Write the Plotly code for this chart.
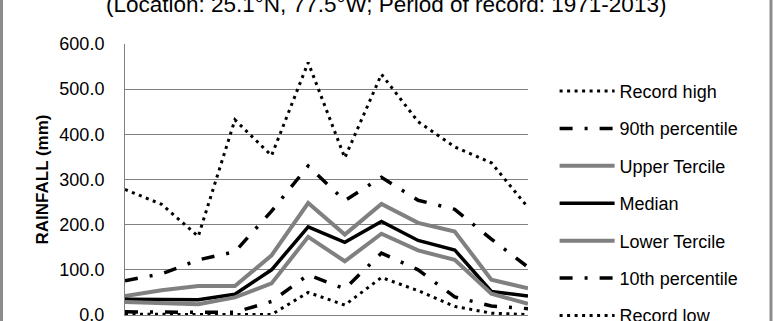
import plotly.graph_objects as go

months = ["Jan", "Feb", "Mar", "Apr", "May", "Jun", "Jul", "Aug", "Sep", "Oct", "Nov", "Dec"]
record_high = [278, 245, 174, 432, 353, 559, 348, 533, 428, 372, 337, 238]
p90 = [76, 91, 122, 140, 230, 330, 253, 305, 254, 234, 168, 106]
upper_tercile = [42, 55, 64, 64, 132, 248, 178, 246, 204, 185, 78, 59]
median = [35, 35, 34, 46, 100, 195, 161, 207, 165, 144, 52, 42]
lower_tercile = [29, 26, 24, 39, 70, 173, 119, 180, 143, 122, 47, 25]
p10 = [7, 6, 6, 6, 30, 89, 58, 137, 100, 40, 20, 14]
record_low = [2, 1, 1, 1, 1, 50, 22, 83, 54, 19, 4, 1]

title_text = "(Location: 25.1°N, 77.5°W; Period of record: 1971-2013)"
y_title = "RAINFALL (mm)"
yticks = [0, 100, 200, 300, 400, 500, 600]

FONT = "Liberation Sans"
GRAY = "#808080"
DOT = "3px,4.5px"
DASHDOT = "13px,12px,3px,12px"

series = [
    ("Record high", record_high, "black", 3, DOT),
    ("90th percentile", p90, "black", 3.5, DASHDOT),
    ("Upper Tercile", upper_tercile, GRAY, 4, "solid"),
    ("Median", median, "black", 3.5, "solid"),
    ("Lower Tercile", lower_tercile, GRAY, 4, "solid"),
    ("10th percentile", p10, "black", 3.5, DASHDOT),
    ("Record low", record_low, "black", 3, DOT),
]

fig = go.Figure()
for i, (name, vals, color, width, dash) in enumerate(series):
    fig.add_trace(go.Scatter(
        x=months, y=vals, name=name, mode="lines",
        line=dict(color=color, width=width, dash=dash),
        legendgroup=f"g{i}", cliponaxis=False, hoverinfo="skip",
    ))

fig.update_layout(
    width=773, height=321,
    margin=dict(l=125, r=245, t=44, b=6, autoexpand=False),
    paper_bgcolor="white", plot_bgcolor="white",
    font=dict(family=FONT, size=18, color="black"),
    showlegend=True,
    legend=dict(
        x=1.066, xanchor="left", y=0.8935, yanchor="top",
        font=dict(family=FONT, size=18, color="black"),
        itemwidth=55, tracegroupgap=11, bgcolor="rgba(0,0,0,0)",
        borderwidth=0,
    ),
    xaxis=dict(
        type="category", showticklabels=False, ticks="",
        showline=True, linecolor=GRAY, linewidth=1,
        showgrid=False, zeroline=False,
    ),
    yaxis=dict(
        range=[0, 600], tickvals=yticks, tickformat=".1f",
        showline=True, linecolor=GRAY, linewidth=1,
        showgrid=True, gridcolor=GRAY, gridwidth=1,
        zeroline=False, ticks="", ticklabelstandoff=16,
        ticklabeloverflow="allow",
        tickfont=dict(family=FONT, size=18, color="black"),
    ),
    annotations=[
        dict(text=title_text, xref="paper", yref="paper",
             x=(386 - 125) / 403, y=1 + (44 - 4.5) / 271,
             xanchor="center", yanchor="middle", showarrow=False,
             font=dict(family=FONT, size=22.5, color="black")),
        dict(text="<b>" + y_title + "</b>", xref="paper", yref="paper",
             x=(41.5 - 125) / 403, y=(315 - 180) / 271, textangle=-90,
             xanchor="center", yanchor="middle", showarrow=False,
             font=dict(family=FONT, size=17, color="black")),
    ],
    shapes=[
        dict(type="line", xref="paper", yref="paper",
             x0=(1.5 - 125) / 403, x1=(1.5 - 125) / 403, y0=-0.2, y1=1.3,
             line=dict(color="#8c8c8c", width=3)),
        dict(type="line", xref="paper", yref="paper",
             x0=(771 - 125) / 403, x1=(771 - 125) / 403, y0=-0.2, y1=1.3,
             line=dict(color="#8c8c8c", width=3)),
    ],
)

fig.write_html("out.html")
